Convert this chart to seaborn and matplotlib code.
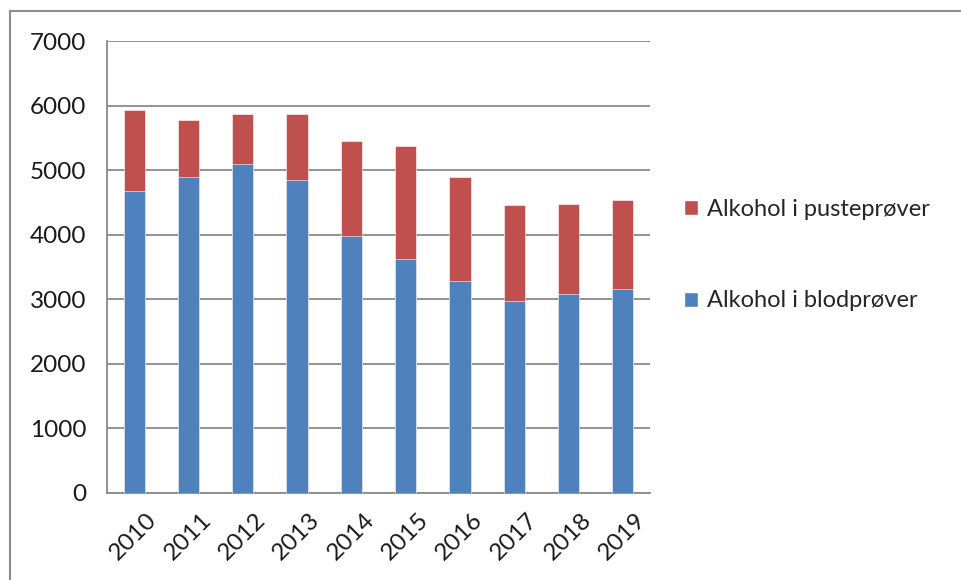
import numpy as np
import pandas as pd
import matplotlib
matplotlib.use('Agg')
import matplotlib.pyplot as plt
import matplotlib.transforms as mtransforms
import seaborn as sns
from matplotlib.patches import Patch
from matplotlib.lines import Line2D

# Data
years = ['2010', '2011', '2012', '2013', '2014', '2015', '2016', '2017', '2018', '2019']
blod = [4680, 4890, 5090, 4850, 3975, 3620, 3280, 2980, 3080, 3165]
puste = [1250, 885, 780, 1020, 1475, 1750, 1615, 1475, 1395, 1370]

df = pd.DataFrame({'year': years, 'blod': blod, 'puste': puste})
df['total'] = df['blod'] + df['puste']

blue = '#4F81BD'
red = '#C0504D'
grid_col = '#8a8a8a'

sns.set_style('white')
plt.rcParams['font.family'] = ['Lato', 'DejaVu Sans']

fig = plt.figure(figsize=(9.62, 5.8), dpi=100)
ax = fig.add_axes([107 / 962, 1 - 492.7 / 580, 543 / 962, (492.7 - 41.3) / 580])

# stacked bars: total in red, then blood in blue on top of it
sns.barplot(data=df, x='year', y='total', color=red, width=0.39, saturation=1, ax=ax, zorder=3)
sns.barplot(data=df, x='year', y='blod', color=blue, width=0.39, saturation=1, ax=ax, zorder=4)
for p in ax.patches:
    p.set_edgecolor('white')
    p.set_linewidth(0.4)

ax.set_ylim(0, 7000)
ax.set_xlim(-0.5, 9.5)
ax.set_yticks(np.arange(0, 7001, 1000))
ax.yaxis.grid(True, color=grid_col, linewidth=1.3, zorder=0)
ax.set_axisbelow(True)
for s in ['top', 'right']:
    ax.spines[s].set_visible(False)
for s in ['left', 'bottom']:
    ax.spines[s].set_color(grid_col)
    ax.spines[s].set_linewidth(1.3)

ax.set_xlabel('')
ax.set_ylabel('')
ax.tick_params(axis='y', length=9, width=1.3, color=grid_col, labelsize=17.5, pad=6, labelcolor='#1a1a1a')
ax.tick_params(axis='x', which='major', length=0, labelsize=17.5, pad=12, labelcolor='#1a1a1a')
ax.set_xticks(np.arange(-0.5, 10, 1), minor=True)
ax.tick_params(axis='x', which='minor', length=7, width=1.3, color=grid_col)
shift = mtransforms.ScaledTranslation(12 / 100, 0, fig.dpi_scale_trans)
for lbl in ax.get_xticklabels():
    lbl.set_rotation(45)
    lbl.set_ha('right')
    lbl.set_va('top')
    lbl.set_rotation_mode('anchor')
    lbl.set_transform(lbl.get_transform() + shift)

handles = [Patch(facecolor=red, label='Alkohol i pusteprøver'),
           Patch(facecolor=blue, label='Alkohol i blodprøver')]
fig.legend(handles=handles, loc='center left', bbox_to_anchor=(672 / 962, 1 - 255 / 580),
           frameon=False, fontsize=17, handlelength=0.6, handleheight=0.6,
           handletextpad=0.4, labelspacing=3.0, borderpad=0)

# outer chart border (top and left visible)
fig.add_artist(Line2D([10 / 962, 1], [1 - 11 / 580, 1 - 11 / 580], color='#8c8c8c', linewidth=1.5))
fig.add_artist(Line2D([10 / 962, 10 / 962], [0, 1 - 11 / 580], color='#8c8c8c', linewidth=1.5))

fig.savefig('out.png', dpi=100)
